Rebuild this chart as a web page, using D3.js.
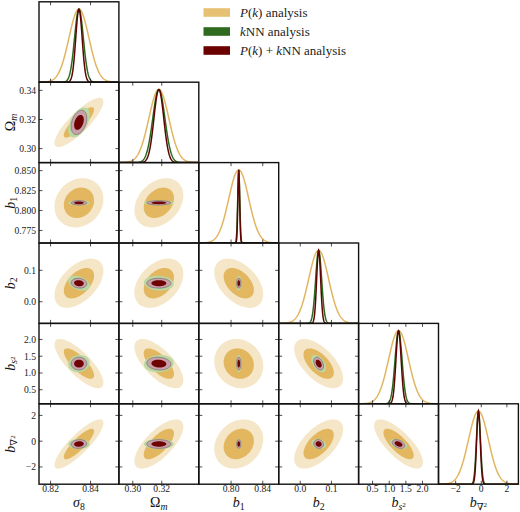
<!DOCTYPE html>
<meta charset="utf-8">
<script src="https://cdn.jsdelivr.net/npm/d3@7"></script>
<style>
body { margin: 0; background: #fff; }
svg { display: block; font-family: "Liberation Serif", "DejaVu Serif", serif; }
.frame { fill: none; stroke: #111; stroke-width: 1.4; }
.tick { stroke: #222; stroke-width: 0.8; }
.ticklab { font-size: 9.6px; fill: #222; }
.axlab { font-size: 14px; fill: #111; }
.leg { font-size: 13px; fill: #222; }
</style>
<svg width="520" height="512"></svg>
<script>

// parameters in plotting order: sigma8, Omega_m, b1, b2, b_s2, b_nabla2
var names = ["s8", "Om", "b1", "b2", "bs2", "bn2"];
var means = [0.8342, 0.3180, 0.8097, 0.059, 1.28, -0.22];

// 1-sigma widths for each analysis
var sigPk  = [0.0050, 0.0069, 0.0126, 0.032, 0.300, 0.78];
var sigKnn = [0.0022, 0.0042, 0.0013, 0.0096, 0.105, 0.160];
var sigAll = [0.0016, 0.0034, 0.0011, 0.0064, 0.078, 0.140];

// correlations, lower triangle: rho[row][col], col < row
var rhoPk  = [[], [0.84], [0.15, 0.30], [0.50, 0.38, -0.45], [-0.78, -0.68, -0.10, -0.60], [0.85, 0.70, 0.20, 0.60, -0.75]];
var rhoKnn = [[], [0.50], [0, 0], [-0.35, -0.10, 0], [0.10, 0.10, 0, -0.50], [0, 0, 0, -0.20, -0.40]];
var rhoAll = [[], [0.35], [0, 0], [-0.10, 0, 0], [0, -0.10, 0, -0.40], [0.10, 0, 0, -0.10, -0.40]];

// tick values
var xTicks = [[0.82, 0.84], [0.30, 0.32], [0.80, 0.84], [0.0, 0.1], [0.5, 1.0, 1.5, 2.0], [-2, 0, 2]];
var yTicks = [[], [0.30, 0.32, 0.34], [0.775, 0.800, 0.825, 0.850], [0.0, 0.1], [0.5, 1.0, 1.5, 2.0], [-2, 0, 2]];
var xFmt = [".2f", ".2f", ".2f", ".1f", ".1f", "d"];
var yFmt = ["", ".2f", ".3f", ".1f", ".1f", "d"];

// axis labels: [text, italic, level] level 0 normal, 1 subscript, 2 superscript on subscript
var axisLabels = [
    [["σ", 1, 0], ["8", 0, 1]],
    [["Ω", 0, 0], ["m", 1, 1]],
    [["b", 1, 0], ["1", 0, 1]],
    [["b", 1, 0], ["2", 0, 1]],
    [["b", 1, 0], ["s", 1, 1], ["2", 0, 2]],
    [["b", 1, 0], ["∇", 0, 1], ["2", 0, 2]]
];

var legendLabels = [
    [["P", 1, 0], ["(", 0, 0], ["k", 1, 0], [") analysis", 0, 0]],
    [["k", 1, 0], ["NN analysis", 0, 0]],
    [["P", 1, 0], ["(", 0, 0], ["k", 1, 0], [") + ", 0, 0], ["k", 1, 0], ["NN analysis", 0, 0]]
];
var legendColors = ["#e6c172", "#2f6a1f", "#6b0000"];

// fills: [95%, 68%]
var fillPk = ["#f4e6c7", "#e3b75f"];
var fillKnn = ["#b9d8a3", "#a2c78e"];
var fillAll = ["#c9a1aa", "#6e0303"];
var lineCols = ["#e2b561", "#2c6a1c", "#5e0404"];

var svg = d3.select("svg");
var X0 = 39, Y0 = 1.8, PW = 79.9, PH = 80.4, n = names.length;
var K95 = 2.448, K68 = 1.515;

var doms = means.map(function(m, i) { return [m - 4 * sigPk[i], m + 4 * sigPk[i]]; });
var xs = doms.map(function(d, i) { return d3.scaleLinear().domain(d).range([X0 + i * PW, X0 + (i + 1) * PW]); });
var ys = doms.map(function(d, j) { return d3.scaleLinear().domain(d).range([Y0 + (j + 1) * PH, Y0 + j * PH]); });

function richText(sel, parts, size) {
    var off = [0, 0.2 * size, 0.0 * size];
    var fs = [size, 0.7 * size, 0.5 * size];
    var cur = 0;
    parts.forEach(function(p) {
        var t = sel.append("tspan").text(p[0])
            .attr("font-size", fs[p[2]])
            .attr("dy", off[p[2]] - cur);
        if (p[1]) t.attr("font-style", "italic");
        cur = off[p[2]];
    });
}

var defs = svg.append("defs");

function ellipse(mx, my, sx, sy, rho, k, xsc, ysc) {
    var d = sy * Math.sqrt(1 - rho * rho);
    var pts = d3.range(0, 120).map(function(q) {
        var t = q / 120 * 2 * Math.PI;
        return [xsc(mx + k * sx * Math.cos(t)), ysc(my + k * (rho * sy * Math.cos(t) + d * Math.sin(t)))];
    });
    return d3.line().curve(d3.curveLinearClosed)(pts);
}

for (var j = 0; j < n; j++) {
    for (var i = 0; i <= j; i++) {
        var px = X0 + i * PW, py = Y0 + j * PH;
        var cid = "clip" + j + "_" + i;
        defs.append("clipPath").attr("id", cid)
            .append("rect").attr("x", px).attr("y", py).attr("width", PW).attr("height", PH);
        var g = svg.append("g").attr("clip-path", "url(#" + cid + ")");

        if (i == j) {
            // 1D marginals
            var yd = d3.scaleLinear().domain([0, 1.1]).range([py + PH, py]);
            var xv = d3.range(0, 241).map(function(q) { return doms[i][0] + (doms[i][1] - doms[i][0]) * q / 240; });
            [sigPk, sigKnn, sigAll].forEach(function(sg, c) {
                var line = d3.line()
                    .x(function(v) { return xs[i](v); })
                    .y(function(v) { var z = (v - means[i]) / sg[i]; return yd(Math.exp(-0.5 * z * z)); });
                g.append("path").attr("d", line(xv))
                    .attr("fill", "none").attr("stroke", lineCols[c]).attr("stroke-width", 1.5);
            });
        } else {
            var sets = [[sigPk, rhoPk, fillPk], [sigKnn, rhoKnn, fillKnn], [sigAll, rhoAll, fillAll]];
            sets.forEach(function(s, c) {
                [K95, K68].forEach(function(k, l) {
                    var p = g.append("path")
                        .attr("d", ellipse(means[i], means[j], s[0][i], s[0][j], s[1][j][i], k, xs[i], ys[j]))
                        .attr("fill", s[2][l]);
                    if (c == 1 && l == 1) p.attr("stroke", "#8d9c88").attr("stroke-width", 0.6);
                    if (c == 2 && l == 0) p.attr("stroke", "#6d5a5e").attr("stroke-width", 0.6);
                });
            });
        }

        // inward ticks
        var tk = svg.append("g");
        xTicks[i].forEach(function(v) {
            var x = xs[i](v);
            tk.append("line").attr("class", "tick").attr("x1", x).attr("x2", x).attr("y1", py + PH).attr("y2", py + PH - 3.5);
            tk.append("line").attr("class", "tick").attr("x1", x).attr("x2", x).attr("y1", py).attr("y2", py + 3.5);
        });
        if (i != j) {
            yTicks[j].forEach(function(v) {
                var y = ys[j](v);
                tk.append("line").attr("class", "tick").attr("x1", px).attr("x2", px + 3.5).attr("y1", y).attr("y2", y);
                tk.append("line").attr("class", "tick").attr("x1", px + PW).attr("x2", px + PW - 3.5).attr("y1", y).attr("y2", y);
            });
        }

        svg.append("rect").attr("class", "frame")
            .attr("x", px).attr("y", py).attr("width", PW).attr("height", PH);
    }
}

// tick labels
var bottom = Y0 + n * PH;
xTicks.forEach(function(tv, i) {
    var f = d3.format(xFmt[i]);
    svg.append("g").selectAll("text").data(tv).enter().append("text")
        .attr("class", "ticklab").attr("text-anchor", "middle")
        .attr("x", function(v) { return xs[i](v); })
        .attr("y", bottom + 8.1)
        .text(function(v) { return f(v); });
});
yTicks.forEach(function(tv, j) {
    if (!tv.length) return;
    var f = d3.format(yFmt[j]);
    svg.append("g").selectAll("text").data(tv).enter().append("text")
        .attr("class", "ticklab").attr("text-anchor", "end")
        .attr("x", X0 - 3)
        .attr("y", function(v) { return ys[j](v); })
        .attr("dy", "0.35em")
        .text(function(v) { return f(v); });
});

// axis labels
axisLabels.forEach(function(parts, i) {
    var t = svg.append("text").attr("class", "axlab").attr("text-anchor", "middle")
        .attr("x", X0 + (i + 0.5) * PW).attr("y", 507);
    richText(t, parts, 14);
    if (i > 0) {
        var cy = Y0 + (i + 0.5) * PH;
        var r = svg.append("text").attr("class", "axlab").attr("text-anchor", "middle")
            .attr("transform", "translate(14.5," + cy + ") rotate(-90)");
        richText(r, parts, 14);
    }
});

// legend
legendLabels.forEach(function(parts, k) {
    var cy = 12.5 + k * 19;
    svg.append("rect").attr("x", 203.5).attr("y", cy - 4.3).attr("width", 26.5).attr("height", 8.6)
        .attr("fill", legendColors[k]);
    var t = svg.append("text").attr("class", "leg").attr("x", 240).attr("y", cy + 4.2);
    richText(t, parts, 13);
});

</script>
